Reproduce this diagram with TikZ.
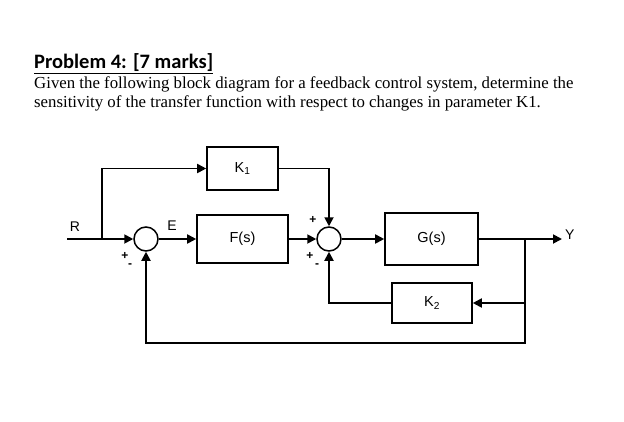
\documentclass[tikz,border=0pt]{standalone}
\usepackage{fontspec}
\setmainfont{Liberation Serif}
\newfontfamily\carl{Carlito}
\newfontfamily\arl{Liberation Sans}
\usetikzlibrary{arrows.meta}
\begin{document}
\begin{tikzpicture}[x=1pt,y=-1pt,
  blk/.style={draw,line width=1.6pt,minimum width=#1,inner sep=0pt,font=\arl\fontsize{14.5}{16}\selectfont},
  sum/.style={draw,circle,line width=1.5pt,minimum size=24pt,inner sep=0pt},
  ln/.style={line width=1.8pt},
  ar/.style={ln,-{Triangle[length=9pt,width=9pt]}},
  lab/.style={font=\arl\fontsize{14}{15}\selectfont,inner sep=0pt},
  sg/.style={font=\arl\bfseries\fontsize{12}{12}\selectfont,inner sep=0pt}]
\useasboundingbox (0,0) rectangle (624,421);
\node[anchor=west,inner sep=0pt,font=\carl\bfseries\fontsize{20.5}{22}\selectfont] (title) at (34,64) {\underline{Problem 4: [7 marks]}};
\node[anchor=north west,inner sep=0pt,align=left,font=\fontsize{16.8}{19}\selectfont] (body) at (34,76)
 {Given the following block diagram for a feedback control system, determine the\\sensitivity of the transfer function with respect to changes in parameter K1.};
\node[blk=71pt,minimum height=43pt] (k1) at (242.5,168.5) {K\textsubscript{1}};
\node[blk=91pt,minimum height=48pt] (f) at (242.5,239) {F(s)};
\node[blk=93pt,minimum height=52pt] (g) at (431.5,239) {G(s)};
\node[blk=80pt,minimum height=40pt] (k2) at (432,303) {K\textsubscript{2}};
\node[sum] (s1) at (146,239) {};
\node[sum] (s2) at (329,239) {};
\coordinate (r) at (67,239);
\coordinate (rb) at (102,239);
\coordinate (yb) at (525,239);
\coordinate (y) at (562,239);
\node[lab] (R) at (75,227) {R};
\node[lab] (E) at (172,226) {E};
\node[lab,anchor=west] (Y) at (565,235) {Y};
\draw[ar] (r) -- (s1.west);
\draw[ar] (rb) |- (k1.west);
\draw[ar] (k1.east) -| (s2.north);
\draw[ar] (s1.east) -- (f.west);
\draw[ar] (f.east) -- (s2.west);
\draw[ar] (s2.east) -- (g.west);
\draw[ar] (g.east) -- (y);
\draw[ar] (yb) |- (k2.east);
\draw[ar] (k2.west) -| (s2.south);
\draw[ar] (yb) |- (146,343) -- (s1.south);
\node[sg] (p1) at (125,256) {+};
\node[sg] (m1) at (130,266) {-};
\node[sg] (p2) at (313,220) {+};
\node[sg] (p3) at (310,256) {+};
\node[sg] (m2) at (317,266) {-};
\end{tikzpicture}
\end{document}
